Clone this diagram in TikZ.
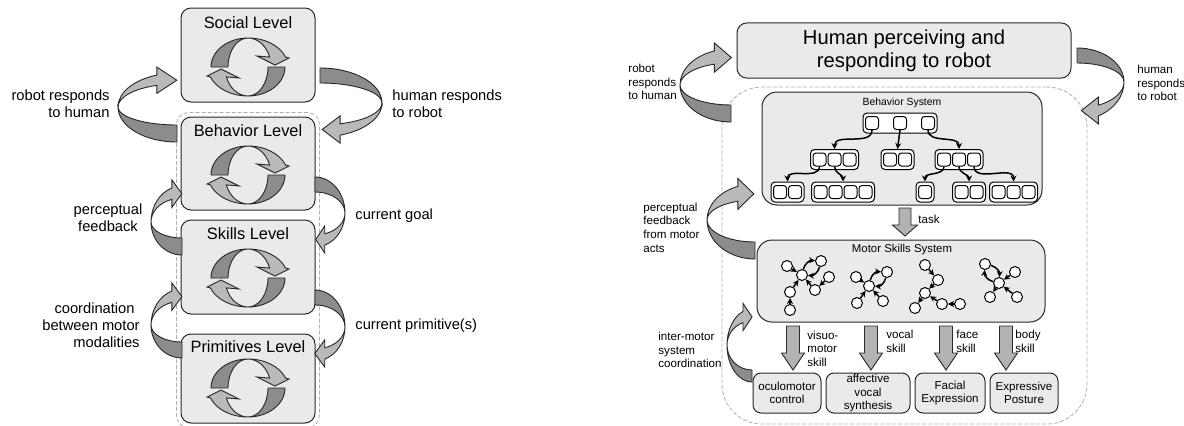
\documentclass[tikz,border=0pt]{standalone}
\usepackage{fontspec}
\setmainfont{Liberation Sans}
\usetikzlibrary{arrows.meta,fit}

\definecolor{boxgray}{RGB}{234,234,234}
\definecolor{bandlight}{RGB}{185,185,185}
\definecolor{banddark}{RGB}{140,140,140}
\definecolor{arrowgray}{RGB}{178,178,178}
\definecolor{edgegray}{RGB}{40,40,40}
\definecolor{framegray}{RGB}{175,175,175}

\tikzset{
  lvlbox/.style={draw=edgegray, fill=boxgray, line width=0.5pt, rounded corners=5pt, minimum width=67pt},
  lvltext/.style={inner sep=0pt, font=\fontsize{8.2}{9.8}\selectfont},
  sidetext/.style={inner sep=0pt, font=\fontsize{7.35}{8.5}\selectfont},
  smalltext/.style={inner sep=0pt, font=\fontsize{5.8}{6.8}\selectfont},
  sysbox/.style={draw=edgegray, fill=boxgray, line width=0.5pt, rounded corners=7.5pt},
  outbox/.style={draw=edgegray, fill=boxgray, line width=0.5pt, rounded corners=4pt, align=center, inner sep=0pt, minimum height=20pt, smalltext},
  container/.style={draw=framegray, line width=0.4pt, dash pattern=on 2pt off 1pt},
  grp/.style={draw=black, fill=white, line width=0.5pt, rounded corners=2pt, minimum height=10pt, inner sep=0pt},
  sq/.style={draw=black, fill=white, line width=0.5pt, rounded corners=1.5pt, minimum size=6.5pt, inner sep=0pt},
  dot/.style={circle, draw=black, fill=white, line width=0.5pt, minimum size=5.5pt, inner sep=0pt},
  link/.style={-{Stealth[length=3pt,width=3pt]}, line width=0.75pt},
  bandd/.style={fill=banddark, draw=edgegray, line width=0.45pt},
  bandl/.style={fill=bandlight, draw=edgegray, line width=0.45pt},
  blockarr/.style={fill=arrowgray, draw=edgegray, line width=0.45pt}
}

\newcommand{\cycicon}[2]{%
  \foreach \rot in {0,180} {
    \begin{scope}[shift={(#1,#2)}, rotate=\rot]
      \filldraw[bandd] (-37,0) arc[start angle=180,end angle=90,x radius=37,y radius=29]
        arc[start angle=90,end angle=180,x radius=20,y radius=29] -- cycle;
      \filldraw[bandl] (0,29) arc[start angle=90,end angle=20,x radius=40,y radius=29]
        -- (41,9) -- (27,2) -- (9,11) -- ({23*cos(20)},{29*sin(20)})
        arc[start angle=20,end angle=90,x radius=23,y radius=29] -- cycle;
    \end{scope}}}

\newcommand{\sideloop}[9]{%
  \begin{scope}[shift={(#1)}, rotate=#2]
    \filldraw[bandd] (0,-#4) arc[start angle=270,end angle=180,x radius=#3,y radius=#4]
      arc[start angle=180,end angle=270,x radius=#3,y radius=#5] -- cycle;
    \filldraw[bandl] (-#3,0) arc[start angle=180,end angle=#8,x radius=#3,y radius=#6]
      -- ++(0,8) -- ({#3*cos(#8)+#9},{(#6+#7)/2*sin(#8)})
      -- ({#3*cos(#8)},{#7*sin(#8)-8}) -- ({#3*cos(#8)},{#7*sin(#8)})
      arc[start angle=#8,end angle=180,x radius=#3,y radius=#7] -- cycle;
  \end{scope}}

\newcommand{\blockarrow}[6]{%
  \filldraw[blockarr] ({#1-#4},#2) -- ({#1+#4},#2) -- ({#1+#4},{#3+#6}) -- ({#1+#5},{#3+#6})
    -- (#1,#3) -- ({#1-#5},{#3+#6}) -- ({#1-#4},{#3+#6}) -- cycle;}

\newcommand{\sqgroup}[5]{%
  \node[grp, minimum width={((#4-1)*#5+18)*0.5pt}] (#1) at (#2,#3) {};
  \foreach \i in {1,...,#4} \node[sq] (#1\i) at ({#2+(\i-(#4+1)/2)*#5},#3) {};}

\begin{document}
\begin{tikzpicture}[x=0.5pt,y=0.5pt]
\useasboundingbox (0,0) rectangle (1184,425);

\node[lvlbox, minimum height=47pt] (social) at (248,370) {};
\node[lvlbox, minimum height=46.5pt] (behav) at (248,261.5) {};
\node[lvlbox, minimum height=47pt] (skills) at (248,158) {};
\node[lvlbox, minimum height=44.5pt] (prims) at (248,46.5) {};
\node[container, rounded corners=6pt, fit=(behav)(prims), inner sep=2pt] (stack) {};

\node[lvltext] (socialtxt) at (248,402) {Social Level};
\node[lvltext] (behavtxt) at (248,294) {Behavior Level};
\node[lvltext] (skillstxt) at (248,191) {Skills Level};
\node[lvltext] (primstxt) at (248,78) {Primitives Level};

\cycicon{248}{358}
\cycicon{248}{250}
\cycicon{248}{147}
\cycicon{248}{37}

\sideloop{177,318}{0}{59}{35}{18}{34}{23}{110}{20}
\sideloop{320,322}{180}{62}{35}{20}{34}{22}{109}{18}
\sideloop{182,203}{0}{31}{33}{16}{36}{24}{109}{10}
\sideloop{315,212}{180}{30}{36}{21}{34}{22}{109}{9}
\sideloop{182,100}{0}{31}{33}{17}{36}{24}{109}{10}
\sideloop{315,98}{180}{30}{37}{22}{34}{22}{109}{10}

\node[sidetext, align=right, anchor=east] (robotlbl) at (110,321.5) {robot responds\\to human};
\node[sidetext, align=left, anchor=west] (humanlbl) at (392,321.5) {human responds\\to robot};
\node[sidetext, align=center] (perclbl) at (108,207.5) {perceptual\\feedback};
\node[sidetext, align=right, anchor=east] (coordlbl) at (140,100) {coordination\hspace*{2.5pt}\\between motor\\modalities};
\node[sidetext, anchor=west] (goallbl) at (355,209) {current goal};
\node[sidetext, anchor=west] (primlbl) at (355,99) {current primitive(s)};

\node[sysbox, rounded corners=5pt, minimum width=167pt, minimum height=27.5pt, align=center, font=\fontsize{10.1}{11.5}\selectfont] (human) at (904,374.5) {Human perceiving and\\responding to robot};
\node[container, rounded corners=20pt, minimum width=182.5pt, minimum height=168.5pt] (robotside) at (904.5,169.5) {};
\node[sysbox, minimum width=140pt, minimum height=56.5pt] (behsys) at (902,276.5) {};
\node[inner sep=0pt, font=\fontsize{5.2}{6}\selectfont] (behsystxt) at (902,322) {Behavior System};
\node[sysbox, minimum width=144pt, minimum height=41pt] (motor) at (901,144) {};
\node[inner sep=0pt, font=\fontsize{5.7}{6.8}\selectfont] (motortxt) at (902,175) {Motor Skills System};

\sqgroup{gT}{900}{302}{3}{28}
\sqgroup{gL}{834.5}{265.5}{3}{15}
\sqgroup{gM}{897.5}{265.5}{2}{15}
\sqgroup{gR}{959}{265.5}{3}{15}
\sqgroup{gA}{787.5}{233}{2}{15}
\sqgroup{gB}{843}{233}{4}{15}
\sqgroup{gC}{925}{233}{1}{15}
\sqgroup{gD}{969}{233}{2}{15}
\sqgroup{gE}{1013.5}{233}{3}{15}

\draw[link] (gT1.south) to[out=-90,in=90] (gL.north);
\draw[link] (gT2.south) -- (gM.north);
\draw[link] (gT3.south) to[out=-90,in=90] (gR.north);
\draw[link] (gL1.south) to[out=-90,in=90] (gA.north);
\draw[link] (gL2.south) to[out=-90,in=90] (gB.north);
\draw[link] (gR1.south) to[out=-90,in=90] (gC.north);
\draw[link] (gR2.south) to[out=-90,in=90] (gD.north);
\draw[link] (gR3.south) to[out=-90,in=90] (gE.north);

\foreach \n/\x/\y in {g1a/787/159, g1b/802/150, g1c/821/164, g1d/829/148, g1e/815/135, g1f/790/133, g1g/790/115,
  g2a/856/148, g2b/869/139, g2c/887/153, g2d/883/124, g2e/857/122,
  g3a/925/160, g3b/938/145, g3c/925/132, g3d/915/117, g3e/942/121, g3f/960/121,
  g4a/985/161, g4b/999/142, g4c/1015/153, g4d/990/128, g4e/1017/128}
  \node[dot] (\n) at (\x,\y) {};

\foreach \s/\t in {g1a/g1b, g1d/g1e, g1e/g1b, g1f/g1b, g1g/g1f, g2a/g2b, g2d/g2b, g2e/g2b,
  g3a/g3b, g3b/g3c, g3c/g3d, g3e/g3c, g3f/g3e, g4c/g4b, g4b/g4d, g4e/g4b}
  \draw[link] (\s) -- (\t);
\draw[link] (g1b) to[bend left=40] (g1c);
\draw[link] (g1c) to[bend left=40] (g1b);
\draw[link] (g2b) to[bend left=40] (g2c);
\draw[link] (g2c) to[bend left=40] (g2b);
\draw[link] (g4a) to[bend left=40] (g4b);
\draw[link] (g4b) to[bend left=40] (g4a);

\blockarrow{905}{217}{189}{6}{12.5}{11}
\node[smalltext, anchor=west] (tasklbl) at (918,206) {task};

\node[outbox, minimum width=34pt] (ocu) at (787,32) {oculomotor\\control};
\node[outbox, minimum width=42pt] (aff) at (868,32) {affective\\vocal\\synthesis};
\node[outbox, minimum width=35pt] (fac) at (950,32) {Facial\\Expression};
\node[outbox, minimum width=34pt] (expr) at (1024,32) {Expressive\\Posture};

\blockarrow{793}{99}{55}{6.5}{11.5}{17}
\blockarrow{871}{99}{55}{6.5}{11.5}{17}
\blockarrow{946}{99}{55}{6.5}{11.5}{17}
\blockarrow{1006}{99}{55}{6.5}{11.5}{17}

\node[smalltext, anchor=west, align=left] (vislbl) at (807,76.5) {visuo-\\motor\\skill};
\node[smalltext, anchor=west, align=left] (vocallbl) at (886,83.5) {vocal\\skill};
\node[smalltext, anchor=west, align=left] (facelbl) at (956,83.5) {face\\skill};
\node[smalltext, anchor=west, align=left] (bodylbl) at (1015,83.5) {body\\skill};

\sideloop{731,340}{0}{51}{37}{20}{36}{22}{109}{17}
\sideloop{1077,343}{180}{47}{34}{19}{38}{26}{117}{17}
\sideloop{755,205}{0}{48}{39}{22}{36}{20}{111}{16}
\sideloop{752,80}{0}{25}{37}{25}{36}{24}{111}{9}

\node[smalltext, anchor=west, align=left] (robot2lbl) at (628,343) {robot\\responds\\to human};
\node[smalltext, anchor=west, align=left] (human2lbl) at (1137,342) {human\\responds\\to robot};
\node[smalltext, anchor=west, align=left] (perc2lbl) at (643,197.5) {perceptual\\feedback\\from motor\\acts};
\node[smalltext, anchor=west, align=left] (interlbl) at (658,75) {inter-motor\\system\\coordination};

\end{tikzpicture}
\end{document}
